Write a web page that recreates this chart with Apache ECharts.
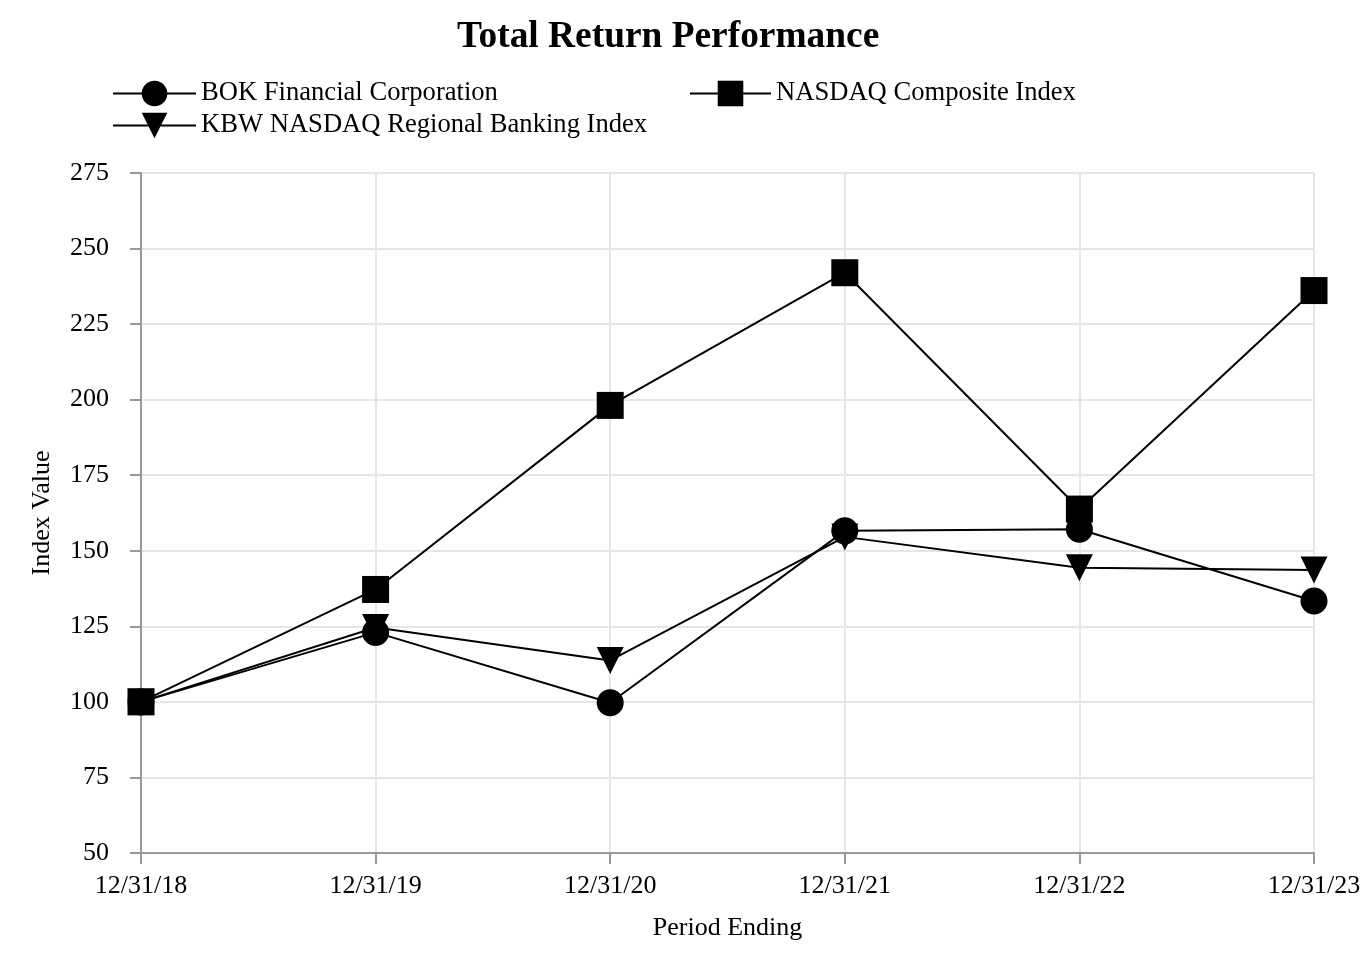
<!DOCTYPE html>
<html>
<head>
<meta charset="utf-8">
<script src="https://cdn.jsdelivr.net/npm/echarts@6/dist/echarts.min.js"></script>
<style>html,body{margin:0;padding:0;background:#fff}#chart{width:1364px;height:962px}</style>
</head>
<body>
<div id="chart"></div>
<script>
const categories = ['12/31/18', '12/31/19', '12/31/20', '12/31/21', '12/31/22', '12/31/23'];
const bokValues = [100, 123, 99.7, 156.6, 157.1, 133.4];
const nasdaqValues = [100, 137.2, 198.1, 242, 163.8, 236.1];
const kbwValues = [100, 124.6, 113.7, 154.6, 144.4, 143.6];
const yTicks = { min: 50, max: 275, interval: 25 };

const FONT = '"Liberation Serif", "Times New Roman", serif';
const chart = echarts.init(document.getElementById('chart'));

function legendAt(name, left, top, w) {
  return {
    data: [name], left: left, top: top, orient: 'horizontal', padding: 0,
    itemWidth: w, itemHeight: 32, itemGap: 10,
    textStyle: { fontFamily: FONT, fontSize: 26.6, color: '#000' },
    selectedMode: false
  };
}

function lineSeries(name, data, symbol, rotate) {
  return {
    name: name, type: 'line', data: data,
    symbol: symbol, symbolSize: 27, symbolRotate: rotate || 0,
    lineStyle: { color: '#000', width: 2 },
    itemStyle: { color: '#000' },
    emphasis: { disabled: true },
    animation: false
  };
}

chart.setOption({
  backgroundColor: '#fff',
  title: {
    text: 'Total Return Performance', left: 452, top: 14,
    textStyle: { fontFamily: FONT, fontSize: 37.4, fontWeight: 'bold', color: '#000' }
  },
  legend: [
    legendAt('BOK Financial Corporation', 112, 80, 83),
    legendAt('NASDAQ Composite Index', 689, 80, 81),
    legendAt('KBW NASDAQ Regional Banking Index', 112, 112, 83)
  ],
  grid: { left: 141, right: 50, top: 173, bottom: 109, containLabel: false },
  xAxis: {
    type: 'category', data: categories, boundaryGap: false,
    name: 'Period Ending', nameLocation: 'middle', nameGap: 62,
    nameTextStyle: { fontFamily: FONT, fontSize: 26, color: '#000' },
    axisLine: { lineStyle: { color: '#999', width: 2 } },
    axisTick: { show: true, length: 11, lineStyle: { color: '#999', width: 2 } },
    axisLabel: { fontFamily: FONT, fontSize: 26, color: '#000', margin: 20 },
    splitLine: { show: true, lineStyle: { color: '#e6e6e6', width: 2 } }
  },
  yAxis: {
    type: 'value', min: yTicks.min, max: yTicks.max, interval: yTicks.interval,
    name: 'Index Value', nameLocation: 'middle', nameGap: 86,
    nameTextStyle: { fontFamily: FONT, fontSize: 26, color: '#000' },
    axisLine: { show: true, lineStyle: { color: '#999', width: 2 } },
    axisTick: { show: true, length: 11, lineStyle: { color: '#999', width: 2 } },
    axisLabel: { fontFamily: FONT, fontSize: 26, color: '#000', margin: 32 },
    splitLine: { show: true, lineStyle: { color: '#e6e6e6', width: 2 } }
  },
  series: [
    lineSeries('BOK Financial Corporation', bokValues, 'circle'),
    lineSeries('NASDAQ Composite Index', nasdaqValues, 'rect'),
    lineSeries('KBW NASDAQ Regional Banking Index', kbwValues, 'triangle', 180)
  ]
});
</script>
</body>
</html>
